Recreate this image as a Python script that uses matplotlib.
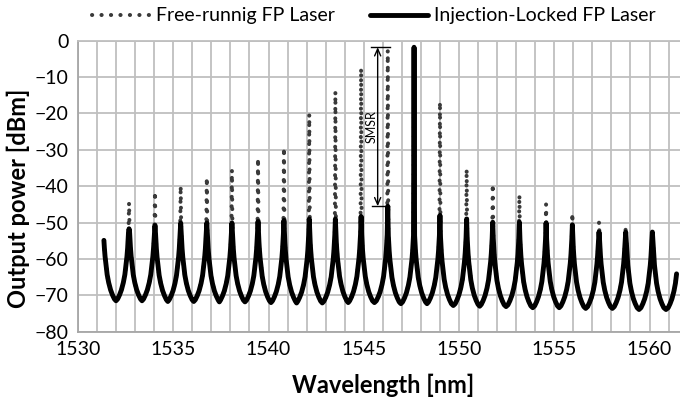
import numpy as np
import matplotlib
matplotlib.use('Agg')
import matplotlib.pyplot as plt
from matplotlib.lines import Line2D

plt.rcParams['font.family'] = ['Lato', 'DejaVu Sans']

# mode wavelengths [nm]; first and last are the partial modes cut at the curve ends
mode_wl = [1531.31, 1532.68, 1534.04, 1535.39, 1536.76, 1538.08, 1539.45, 1540.81,
           1542.14, 1543.51, 1544.86, 1546.26, 1547.64, 1549.00, 1550.40, 1551.77,
           1553.17, 1554.57, 1555.95, 1557.35, 1558.75, 1560.15, 1561.58]
# peak power of each mode [dBm]
locked_db = [-52.0, -51.7, -50.8, -50.1, -50.1, -50.1, -49.7, -49.4, -49.0, -49.0, -48.3,
             -45.5, -1.8, -48.0, -49.0, -49.9, -49.9, -50.1, -50.6, -52.6, -52.6, -52.6, -53.0]
free_db = [-46.0, -44.5, -41.5, -39.9, -37.6, -35.5, -32.3, -29.4, -20.2, -14.0, -7.6,
           -2.6, -3.0, -16.8, -35.3, -39.4, -42.4, -44.9, -47.4, -49.8, -51.3, -53.0, -54.0]
# floor between neighbouring modes [dBm]
valley_db = [-71.5, -71.5, -71.7, -71.7, -71.8, -71.8, -72.0, -72.1, -72.1, -72.0, -72.0,
             -72.3, -72.3, -72.8, -73.0, -73.1, -73.4, -73.4, -73.6, -73.6, -73.9, -73.9]
# line shape of a mode flank: distance from the peak [nm] and rise above the floor [dB]
flank_dx = [0.6, 0.5, 0.4, 0.3, 0.22, 0.16, 0.11, 0.075, 0.05, 0.03]
flank_rise = [0.5, 1.6, 3.0, 5.0, 7.2, 9.8, 12.2, 14.5, 16.6, 18.7]
curve_start, curve_end = 1531.36, 1561.42


def spectrum(peaks):
    xs, ys = [], []
    n = len(mode_wl)
    for j in range(n):
        if j > 0:
            for dx, r in zip(flank_dx, flank_rise):
                xs.append(mode_wl[j] - dx)
                ys.append(valley_db[j - 1] + r)
        xs.append(mode_wl[j])
        ys.append(peaks[j])
        if j < n - 1:
            for dx, r in zip(flank_dx[::-1], flank_rise[::-1]):
                xs.append(mode_wl[j] + dx)
                ys.append(valley_db[j] + r)
            xs.append((mode_wl[j] + mode_wl[j + 1]) / 2)
            ys.append(valley_db[j])
    xs = np.array(xs)
    ys = np.array(ys)
    keep = (xs > curve_start) & (xs < curve_end)
    x = np.concatenate(([curve_start], xs[keep], [curve_end]))
    y = np.concatenate(([np.interp(curve_start, xs, ys)], ys[keep], [np.interp(curve_end, xs, ys)]))
    return x, y


fig = plt.figure(figsize=(6.8, 3.97), dpi=100)
ax = fig.add_axes([78 / 680, 1 - 331.7 / 397, 602 / 680, 291 / 397])

xf, yf = spectrum(free_db)
xl, yl = spectrum(locked_db)
dots = (0, (0.05, 2.3))
ax.plot(xf, yf, color='#3a3a3a', lw=2.9, linestyle=dots, dash_capstyle='round', zorder=2)
ax.plot(xl, yl, color='black', lw=3.5, solid_capstyle='round', solid_joinstyle='round', zorder=3)

# SMSR marker between the locked mode and its strongest side mode
top = max(locked_db)
bottom = locked_db[11]
ax_x = mode_wl[11] - 0.53
ax.annotate('', xy=(ax_x, top), xytext=(ax_x, bottom),
            arrowprops=dict(arrowstyle='<->,head_length=0.5,head_width=0.22', lw=1,
                            color='black', shrinkA=0, shrinkB=0), zorder=4)
ax.plot([ax_x - 0.33, ax_x + 0.67], [top, top], color='black', lw=1, zorder=4)
ax.plot([ax_x - 0.28, ax_x + 0.62], [bottom, bottom], color='black', lw=1, zorder=4)
ax.text(ax_x - 0.3, (top + bottom) / 2, 'SMSR', rotation=90, ha='center', va='center',
        fontsize=9, zorder=4)

ax.set_xlim(1530, 1561.6)
ax.set_ylim(-80, 0)
ax.set_xticks(np.arange(1530, 1561, 5))
ax.set_xticks(np.arange(1530, 1562, 1), minor=True)
ax.set_yticks(np.arange(-80, 1, 10))
ax.grid(which='both', color='#bfbfbf', lw=1.3)
ax.set_axisbelow(True)
ax.tick_params(which='both', length=0, labelsize=14, pad=7, colors='black')
ax.spines['right'].set_visible(False)
for s in ['left', 'bottom', 'top']:
    ax.spines[s].set_color('#a6a6a6')
    ax.spines[s].set_linewidth(1.3)
ax.spines['top'].set_color('#bfbfbf')

fig.text(18.5 / 680, 1 - 198 / 397, 'Output power [dBm]', rotation=90, ha='center',
         va='center', fontsize=17, fontweight='bold')
fig.text(383 / 680, 1 - 385 / 397, 'Wavelength [nm]', ha='center', va='center',
         fontsize=17, fontweight='bold')

handles = [Line2D([], [], color='#3a3a3a', lw=2.9, linestyle=dots, dash_capstyle='round'),
           Line2D([], [], color='black', lw=3.5, solid_capstyle='round')]
fig.legend(handles, ['Free-runnig FP Laser', 'Injection-Locked FP Laser'], ncol=2,
           loc='center', bbox_to_anchor=(374 / 680, 1 - 16 / 397), frameon=False,
           fontsize=14, handlelength=3.0, handletextpad=0.3, columnspacing=1.8,
           borderaxespad=0, borderpad=0)

fig.savefig('out.png', dpi=100)
